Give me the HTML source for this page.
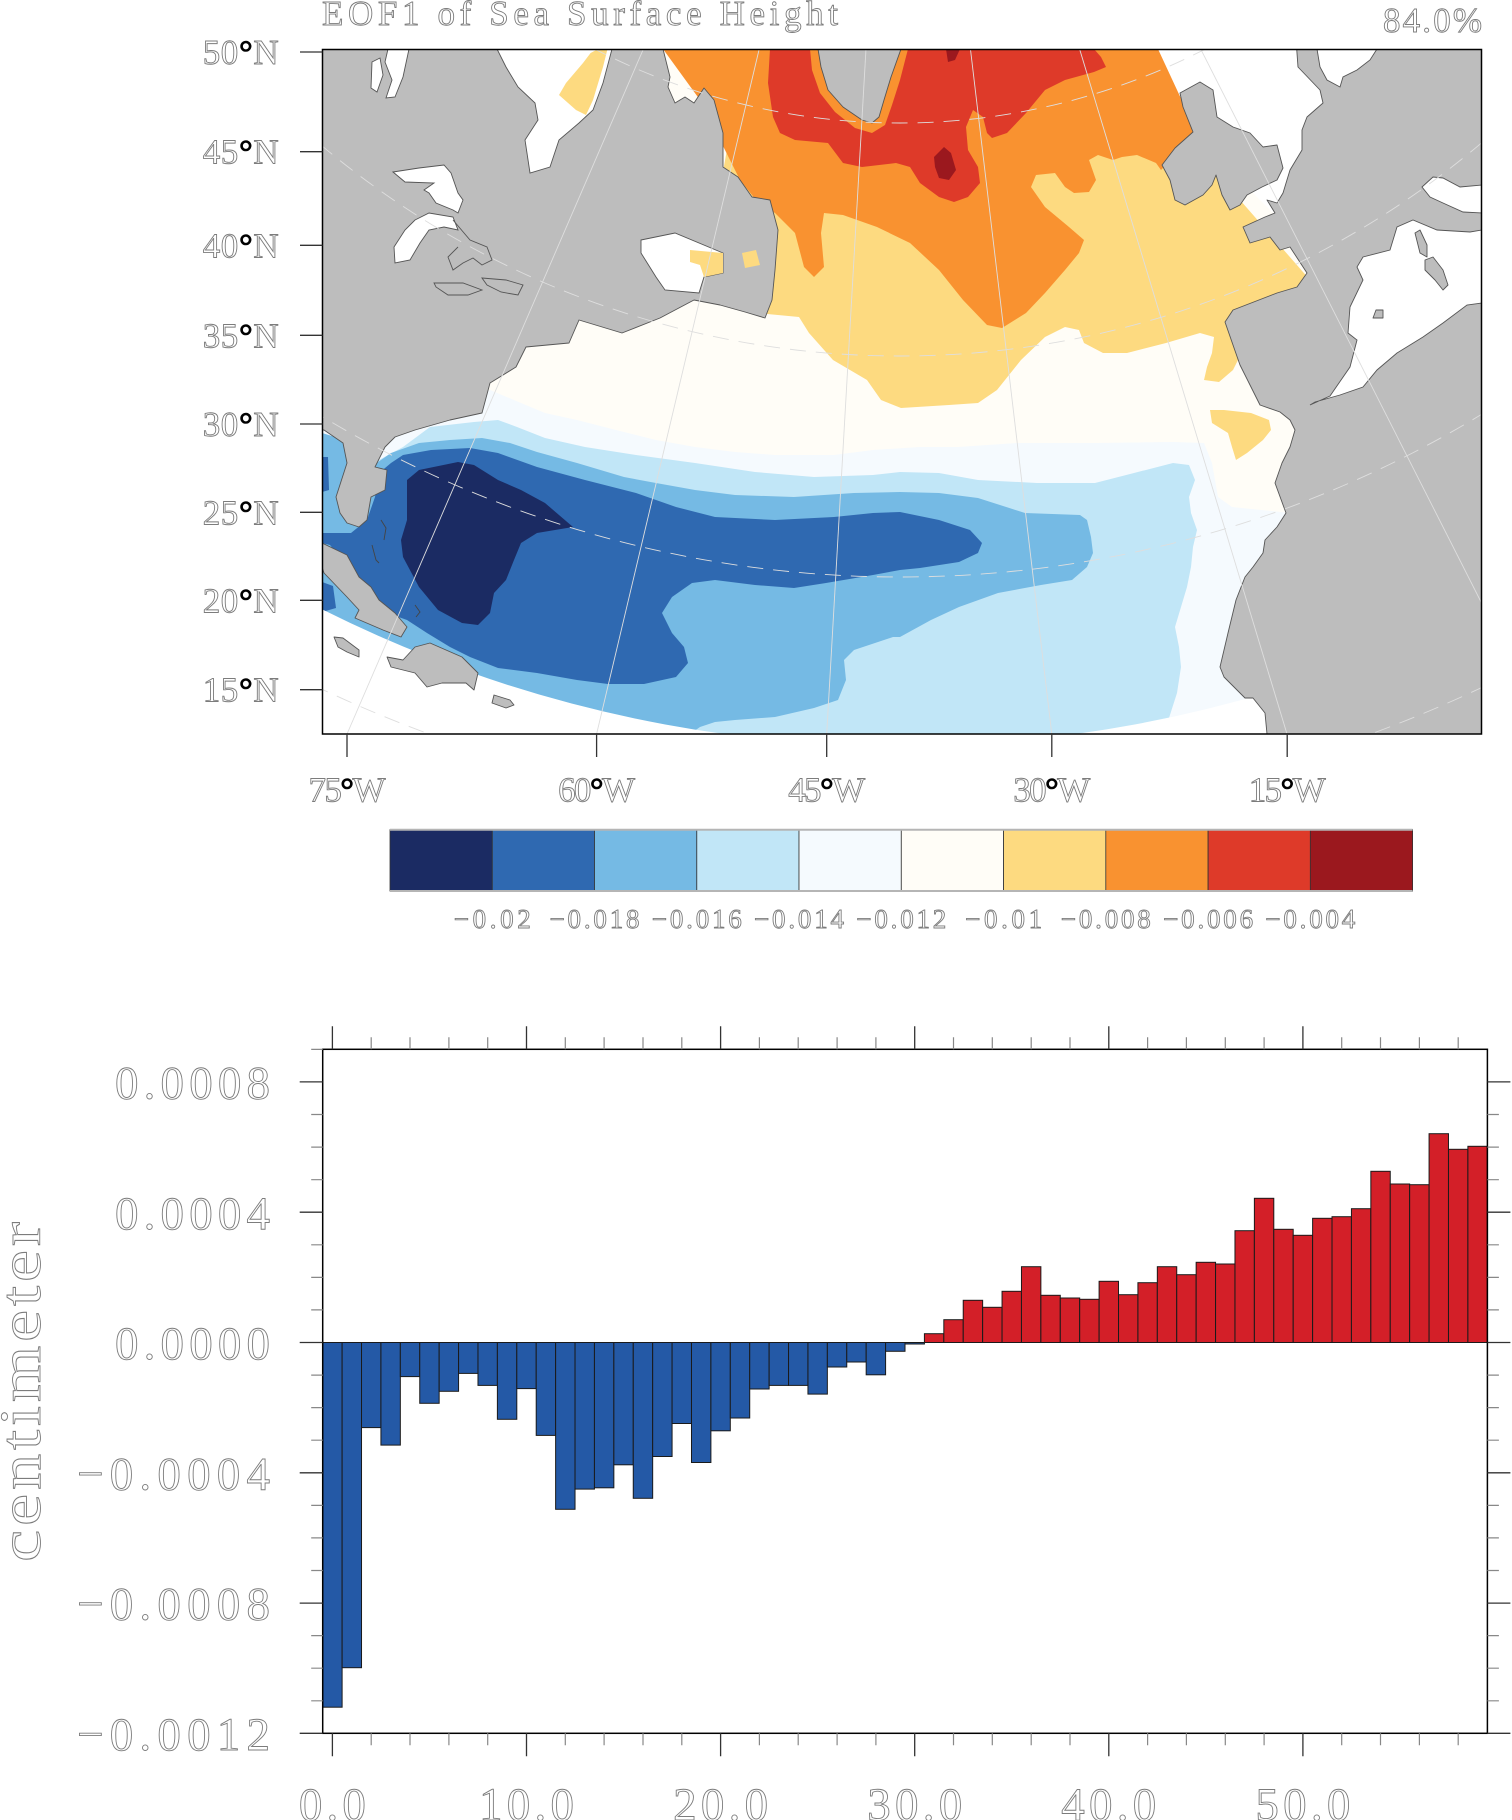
<!DOCTYPE html>
<html><head><meta charset="utf-8"><style>
html,body{margin:0;padding:0;background:#fff;}
svg{display:block;}
.t{font-family:"Liberation Serif",serif;fill:none;stroke:#7c7c7c;stroke-width:0.9;}
.deg{fill:#000;stroke:#000;stroke-width:0.6;font-weight:bold;}
.land{fill:#bdbdbd;stroke:#555;stroke-width:0.9;stroke-linejoin:round;}
.wl{fill:#fff;stroke:#555;stroke-width:0.9;}
.grid{fill:none;stroke:#dedede;stroke-width:0.9;}
</style></head><body>
<svg width="1512" height="1820" viewBox="0 0 1512 1820" xmlns="http://www.w3.org/2000/svg">
<defs><clipPath id="mc"><rect x="322.5" y="49.5" width="1159" height="684.5"/></clipPath></defs>

<!-- Titles -->
<text class="t" x="322" y="25" font-size="35" textLength="516" lengthAdjust="spacing">EOF1 of Sea Surface Height</text>
<text class="t" x="1482" y="32" font-size="35" text-anchor="end" textLength="99" lengthAdjust="spacing">84.0%</text>

<!-- MAP -->
<g clip-path="url(#mc)">
<rect x="322.5" y="49.5" width="1159" height="684.5" fill="#fffdf7"/>
<polygon fill="#f5fafe" points="322,430 420,425 470,400 490,390 521,403 545,413 577,420 616,430 656,440 695,447 735,452 775,455 834,455 873,450 920,447 958,447 1017,443 1095,443 1173,442 1204,443 1212,463 1218,497 1232,507 1310,515 1310,734 322,734"/>
<polygon fill="#c1e6f7" points="322,440 360,452 379,460 403,447 430,427 474,422 498,420 517,427 545,438 585,447 636,455 695,463 755,472 814,477 873,475 900,472 939,473 978,480 1037,483 1095,483 1134,473 1173,463 1189,465 1195,480 1189,497 1191,513 1197,530 1193,547 1191,567 1187,587 1181,607 1175,627 1179,647 1181,667 1177,693 1169,718 1160,734 322,734"/>
<polygon fill="#75bae4" points="322,433 345,440 347,463 360,470 371,467 391,453 419,443 450,440 482,438 510,443 537,452 577,463 624,477 656,483 695,490 735,495 794,497 854,493 900,492 939,493 978,498 1025,513 1080,515 1087,520 1091,537 1093,553 1087,567 1072,580 1041,585 998,593 959,607 931,620 900,637 893,637 854,650 844,660 846,680 838,700 814,708 775,717 735,720 715,722 700,727 690,734 322,734"/>
<polygon fill="#2f69b1" points="391,463 403,455 431,450 470,448 498,453 537,467 585,480 636,493 676,507 715,517 775,520 834,517 873,513 900,512 939,520 970,530 982,543 978,553 959,562 920,568 900,570 873,575 826,583 794,588 755,585 715,580 692,583 672,597 662,613 672,633 684,647 688,663 676,677 644,684 608,684 577,680 537,673 498,668 470,657 450,647 427,633 407,620 379,610 363,593 355,580 348,567 330,545 322,543 322,533 351,533 367,520 375,497 379,473"/>
<polygon fill="#2f69b1" points="322,457 328,457 329,490 322,492"/>
<polygon fill="#2f69b1" points="322,582 333,586 336,608 322,612"/>
<polygon fill="#1b2b63" points="407,480 419,470 458,462 474,465 498,480 521,490 545,503 573,527 537,533 521,543 514,560 506,580 494,593 490,613 478,625 462,623 438,610 419,587 403,557 401,540 407,520 407,490"/>
<!-- warm -->
<polygon fill="#fdda80" points="745,49 1160,49 1240,200 1310,280 1250,330 1238,347 1238,360 1233,370 1219,382 1204,380 1207,367 1212,353 1214,337 1200,333 1166,343 1127,353 1103,353 1084,343 1079,330 1065,327 1045,337 1021,360 997,390 978,403 949,405 901,408 881,400 867,380 833,360 809,333 799,317 756,313 740,300 700,300"/>
<polygon fill="#fdda80" points="1210,410 1224,410 1251,413 1269,420 1271,430 1263,440 1247,453 1236,460 1232,447 1228,433 1212,423"/>
<polygon fill="#f99230" points="663,49 1160,49 1197,133 1161,170 1156,163 1137,155 1122,157 1113,160 1098,155 1089,160 1096,180 1089,192 1074,193 1065,187 1055,173 1036,175 1031,187 1045,207 1069,227 1084,240 1079,253 1065,270 1045,293 1026,313 1002,328 987,325 963,300 939,270 910,243 877,227 843,215 824,213 821,233 824,267 814,277 804,267 795,233 775,213 756,200 740,180 700,100"/>
<polygon fill="#de3a29" points="770,49 768,83 773,117 780,133 795,140 828,143 843,163 862,167 896,163 910,167 920,183 939,197 954,202 968,197 980,183 978,167 968,150 966,127 973,110 983,117 987,133 992,138 1007,133 1026,113 1045,90 1065,80 1094,72 1106,67 1101,57 1094,49"/>
<polygon fill="#9b181e" points="934,157 944,147 951,153 956,170 949,180 939,178 935,167"/>
<polygon fill="#9b181e" points="946,49 960,49 955,60 948,62"/>
<polygon fill="#f99230" points="810,49 908,49 900,80 892,105 885,125 872,133 855,128 835,112 820,93 812,70"/>
<!-- outside-domain white -->
<circle cx="900" cy="-544" r="1590" fill="none" stroke="#fff" stroke-width="600"/>
<polygon fill="#fff" points="1158,49 1197,133 1235,175 1290,230 1320,285 1345,420 1462,734 1482,734 1482,49"/>
<!-- land -->
<polygon class="land" points="322,49 663,49 670,77 668,87 675,103 685,97 694,103 704,88 714,100 723,133 723,167 738,177 752,197 770,200 778,230 775,270 772,300 765,318 745,312 720,305 694,300 660,318 622,333 579,320 569,343 526,347 516,367 490,383 482,413 450,420 415,430 395,437 385,447 375,467 387,470 385,490 371,497 367,520 359,527 347,523 340,513 336,497 347,463 343,443 324,430 322,430"/>
<polygon class="land" points="322,543 347,555 359,577 371,587 379,600 395,613 407,627 401,637 383,630 355,618 359,610 347,597 324,573 322,567"/>
<polygon class="land" points="387,657 403,660 415,647 430,643 462,657 478,673 474,690 466,683 442,683 427,687 415,673 391,667"/>
<polygon class="land" points="334,637 343,638 359,650 359,657 347,652 338,647"/>
<polygon class="land" points="494,695 510,700 514,705 506,708 492,703"/>
<polygon class="land" points="818,49 901,49 891,77 884,100 879,117 872,123 862,120 843,107 828,90 821,67"/>
<polygon class="land" points="1180,93 1200,82 1213,90 1217,117 1233,127 1250,133 1263,147 1277,145 1283,168 1277,180 1262,187 1247,195 1240,205 1230,210 1222,195 1216,175 1212,185 1203,195 1185,205 1175,200 1170,180 1162,165 1175,148 1193,132 1183,107"/>
<polygon class="land" points="1296.7,49 1482,49 1482,734 1267,734 1265,713 1253,698 1245,698 1224,677 1220,667 1228,633 1236,600 1245,577 1253,567 1263,553 1265,540 1277,527 1286,513 1275,483 1282,463 1290,447 1295,430 1290,420 1280,412 1260,405 1250,385 1240,365 1233,345 1225,322 1233,310 1277,293 1297,287 1307,273 1290,247 1280,250 1270,237 1250,243 1243,227 1265,217 1275,213 1267,200 1277,203 1283,193 1290,170 1302,150 1302,130 1307,117 1323,103 1320,90 1298,67"/>
<!-- water on land -->
<polygon class="wl" points="497,49 612,49 603,83 593,110 579,123 559,140 550,167 530,173 525,140 538,120 535,103 518,87 506,67"/>
<polygon fill="#fdda80" points="598,49 607.5,49 603,67 593,100 586,115 576,110 559,95 566,83 583,63 590.6,53"/>
<polygon class="wl" points="641,240 675,233 723,253 723,273 704,277 699,293 665,290 656,277 641,253"/>
<polygon fill="#fdda80" points="690,250 723,253 723,273 704,277 700,265 690,262"/>
<polygon fill="#fdda80" points="742,253 756,250 760,265 745,268"/>
<polygon class="wl" points="393,172 419,168 444,165 451,173 458,193 463,200 458,213 453,210 436,203 429,193 424,190 434,183 405,182"/>
<polygon class="wl" points="415,220 429,213 453,217 458,230 444,227 429,230 420,243 410,260 395,263 394,247 405,230"/>
<polygon class="wl" points="388,49 409,49 403,77 395,97 386,98 392,80 385,62"/>
<polygon class="wl" points="372,62 380,58 383,75 377,92 371,88"/>
<polyline fill="none" stroke="#555" stroke-width="0.9" points="453,220 470,240 487,247 492,260 482,265 473,258 463,263 453,270 448,257 458,247"/>
<polygon fill="none" stroke="#555" stroke-width="0.9" points="434,283 463,283 482,290 468,295 448,295 436,287"/>
<polygon fill="none" stroke="#555" stroke-width="0.9" points="482,278 506,280 523,285 518,295 501,292 487,285"/>
<polygon class="wl" points="1363,257 1390,250 1397,227 1413,220 1437,230 1470,232 1482,230 1482,303 1467,305 1443,323 1423,337 1397,353 1377,370 1363,387 1340,395 1315,402 1310,405 1330,396 1350,367 1357,340 1348,333 1350,307 1363,280 1357,267"/>
<polygon class="land" points="1415,233 1420,230 1427,245 1427,257 1420,253"/>
<polygon class="land" points="1425,260 1433,257 1443,270 1448,285 1443,290 1435,280 1425,270"/>
<polygon class="land" points="1373,318 1376,310 1383,310 1383,318"/>
<polygon class="wl" points="1422,187 1433,177 1443,178 1460,187 1482,185 1482,213 1463,212 1443,203 1430,197"/>
<polygon class="wl" points="1317,49 1377,49 1370,60 1357,70 1343,77 1340,87 1327,80 1320,67"/>
<polyline fill="none" stroke="#444" stroke-width="0.9" points="381,520 386,528 384,540"/>
<polyline fill="none" stroke="#444" stroke-width="0.9" points="372,545 376,560 379,563"/>
<polyline fill="none" stroke="#444" stroke-width="0.9" points="415,605 420,612 416,617"/>
<!-- grid -->
<g class="grid">
<line x1="900" y1="-544" x2="347" y2="734"/>
<line x1="900" y1="-544" x2="596.6" y2="734"/>
<line x1="900" y1="-544" x2="826.7" y2="734"/>
<line x1="900" y1="-544" x2="1051.8" y2="734"/>
<line x1="900" y1="-544" x2="1287" y2="734"/>
<line x1="900" y1="-544" x2="1548" y2="734"/>
<g stroke-dasharray="16 10">
<circle cx="900" cy="-544" r="667"/>
<circle cx="900" cy="-544" r="900"/>
<circle cx="900" cy="-544" r="1121"/>
<circle cx="900" cy="-544" r="1362"/>
</g>
</g>
</g>
<rect x="322.5" y="49.5" width="1159" height="684.5" fill="none" stroke="#000" stroke-width="1.5"/>
<!-- map ticks -->
<path fill="none" stroke="#333" stroke-width="1.3" d="M300 52H322.5M300 151.7H322.5M300 245.3H322.5M300 335.3H322.5M300 424H322.5M300 512.3H322.5M300 600.3H322.5M300 689.7H322.5M347 734V757M596.6 734V757M826.7 734V757M1051.8 734V757M1287.2 734V757"/>
<g class="t" font-size="35">
<text x="278.7" y="64" text-anchor="end" textLength="76" lengthAdjust="spacing">50<tspan class="deg">°</tspan>N</text>
<text x="278.7" y="163.7" text-anchor="end" textLength="76" lengthAdjust="spacing">45<tspan class="deg">°</tspan>N</text>
<text x="278.7" y="257.3" text-anchor="end" textLength="76" lengthAdjust="spacing">40<tspan class="deg">°</tspan>N</text>
<text x="278.7" y="347.3" text-anchor="end" textLength="76" lengthAdjust="spacing">35<tspan class="deg">°</tspan>N</text>
<text x="278.7" y="436" text-anchor="end" textLength="76" lengthAdjust="spacing">30<tspan class="deg">°</tspan>N</text>
<text x="278.7" y="524.3" text-anchor="end" textLength="76" lengthAdjust="spacing">25<tspan class="deg">°</tspan>N</text>
<text x="278.7" y="612.3" text-anchor="end" textLength="76" lengthAdjust="spacing">20<tspan class="deg">°</tspan>N</text>
<text x="278.7" y="701.7" text-anchor="end" textLength="76" lengthAdjust="spacing">15<tspan class="deg">°</tspan>N</text>
<text x="347" y="801.7" text-anchor="middle" textLength="77" lengthAdjust="spacing">75<tspan class="deg">°</tspan>W</text>
<text x="596.6" y="801.7" text-anchor="middle" textLength="77" lengthAdjust="spacing">60<tspan class="deg">°</tspan>W</text>
<text x="826.7" y="801.7" text-anchor="middle" textLength="77" lengthAdjust="spacing">45<tspan class="deg">°</tspan>W</text>
<text x="1051.8" y="801.7" text-anchor="middle" textLength="77" lengthAdjust="spacing">30<tspan class="deg">°</tspan>W</text>
<text x="1287.2" y="801.7" text-anchor="middle" textLength="77" lengthAdjust="spacing">15<tspan class="deg">°</tspan>W</text>
</g>

<!-- COLORBAR -->
<g stroke="#333" stroke-width="0.8">
<rect x="390" y="829.7" width="102.3" height="61.3" fill="#1b2b63"/>
<rect x="492.3" y="829.7" width="102.3" height="61.3" fill="#2f69b1"/>
<rect x="594.5" y="829.7" width="102.3" height="61.3" fill="#75bae4"/>
<rect x="696.8" y="829.7" width="102.3" height="61.3" fill="#c1e6f7"/>
<rect x="799" y="829.7" width="102.3" height="61.3" fill="#f5fafe"/>
<rect x="901.3" y="829.7" width="102.3" height="61.3" fill="#fffdf7"/>
<rect x="1003.6" y="829.7" width="102.3" height="61.3" fill="#fdda80"/>
<rect x="1105.8" y="829.7" width="102.3" height="61.3" fill="#f99230"/>
<rect x="1208.1" y="829.7" width="102.3" height="61.3" fill="#de3a29"/>
<rect x="1310.3" y="829.7" width="102.3" height="61.3" fill="#9b181e"/>
</g>
<path d="M390 829.7H1412.6M390 891H1412.6" stroke="#b5b5b5" stroke-width="2"/>
<g class="t" font-size="27">
<text x="492.3" y="928" text-anchor="middle" textLength="77" lengthAdjust="spacing">−0.02</text>
<text x="594.5" y="928" text-anchor="middle" textLength="90" lengthAdjust="spacing">−0.018</text>
<text x="696.8" y="928" text-anchor="middle" textLength="90" lengthAdjust="spacing">−0.016</text>
<text x="799" y="928" text-anchor="middle" textLength="90" lengthAdjust="spacing">−0.014</text>
<text x="901.3" y="928" text-anchor="middle" textLength="90" lengthAdjust="spacing">−0.012</text>
<text x="1003.6" y="928" text-anchor="middle" textLength="77" lengthAdjust="spacing">−0.01</text>
<text x="1105.8" y="928" text-anchor="middle" textLength="90" lengthAdjust="spacing">−0.008</text>
<text x="1208.1" y="928" text-anchor="middle" textLength="90" lengthAdjust="spacing">−0.006</text>
<text x="1310.3" y="928" text-anchor="middle" textLength="90" lengthAdjust="spacing">−0.004</text>
</g>

<!-- BAR CHART -->
<g fill="#2459a6" stroke="#1a1a1a" stroke-width="1">
<rect x="322.70" y="1342.5" width="19.41" height="364.7"/>
<rect x="342.11" y="1342.5" width="19.41" height="325.2"/>
<rect x="361.52" y="1342.5" width="19.41" height="85.1"/>
<rect x="380.93" y="1342.5" width="19.41" height="102.6"/>
<rect x="400.34" y="1342.5" width="19.41" height="34.1"/>
<rect x="419.75" y="1342.5" width="19.41" height="60.8"/>
<rect x="439.16" y="1342.5" width="19.41" height="48.8"/>
<rect x="458.57" y="1342.5" width="19.41" height="30.9"/>
<rect x="477.98" y="1342.5" width="19.41" height="42.9"/>
<rect x="497.39" y="1342.5" width="19.41" height="76.8"/>
<rect x="516.80" y="1342.5" width="19.41" height="46.1"/>
<rect x="536.21" y="1342.5" width="19.41" height="92.9"/>
<rect x="555.62" y="1342.5" width="19.41" height="166.8"/>
<rect x="575.03" y="1342.5" width="19.41" height="146.6"/>
<rect x="594.44" y="1342.5" width="19.41" height="145.3"/>
<rect x="613.85" y="1342.5" width="19.41" height="122.3"/>
<rect x="633.26" y="1342.5" width="19.41" height="155.8"/>
<rect x="652.67" y="1342.5" width="19.41" height="114.0"/>
<rect x="672.08" y="1342.5" width="19.41" height="81.0"/>
<rect x="691.49" y="1342.5" width="19.41" height="120.0"/>
<rect x="710.90" y="1342.5" width="19.41" height="88.3"/>
<rect x="730.31" y="1342.5" width="19.41" height="75.5"/>
<rect x="749.72" y="1342.5" width="19.41" height="46.5"/>
<rect x="769.13" y="1342.5" width="19.41" height="42.9"/>
<rect x="788.54" y="1342.5" width="19.41" height="42.9"/>
<rect x="807.95" y="1342.5" width="19.41" height="51.6"/>
<rect x="827.36" y="1342.5" width="19.41" height="24.5"/>
<rect x="846.77" y="1342.5" width="19.41" height="19.5"/>
<rect x="866.18" y="1342.5" width="19.41" height="32.3"/>
<rect x="885.59" y="1342.5" width="19.41" height="8.8"/>
<rect x="905.00" y="1342.5" width="19.41" height="1.5"/>
</g>
<g fill="#d31f28" stroke="#1a1a1a" stroke-width="1">
<rect x="924.41" y="1333.7" width="19.41" height="8.8"/>
<rect x="943.82" y="1319.7" width="19.41" height="22.8"/>
<rect x="963.23" y="1300.3" width="19.41" height="42.2"/>
<rect x="982.64" y="1307.3" width="19.41" height="35.2"/>
<rect x="1002.05" y="1291.3" width="19.41" height="51.2"/>
<rect x="1021.46" y="1266.7" width="19.41" height="75.8"/>
<rect x="1040.87" y="1295.3" width="19.41" height="47.2"/>
<rect x="1060.28" y="1298.0" width="19.41" height="44.5"/>
<rect x="1079.69" y="1299.3" width="19.41" height="43.2"/>
<rect x="1099.10" y="1281.3" width="19.41" height="61.2"/>
<rect x="1118.51" y="1294.7" width="19.41" height="47.8"/>
<rect x="1137.92" y="1282.7" width="19.41" height="59.8"/>
<rect x="1157.33" y="1266.7" width="19.41" height="75.8"/>
<rect x="1176.74" y="1274.7" width="19.41" height="67.8"/>
<rect x="1196.15" y="1262.3" width="19.41" height="80.2"/>
<rect x="1215.56" y="1264.0" width="19.41" height="78.5"/>
<rect x="1234.97" y="1230.7" width="19.41" height="111.8"/>
<rect x="1254.38" y="1198.3" width="19.41" height="144.2"/>
<rect x="1273.79" y="1229.3" width="19.41" height="113.2"/>
<rect x="1293.20" y="1235.3" width="19.41" height="107.2"/>
<rect x="1312.61" y="1218.3" width="19.41" height="124.2"/>
<rect x="1332.02" y="1216.7" width="19.41" height="125.8"/>
<rect x="1351.43" y="1208.7" width="19.41" height="133.8"/>
<rect x="1370.84" y="1171.3" width="19.41" height="171.2"/>
<rect x="1390.25" y="1184.0" width="19.41" height="158.5"/>
<rect x="1409.66" y="1184.7" width="19.41" height="157.8"/>
<rect x="1429.07" y="1133.7" width="19.41" height="208.8"/>
<rect x="1448.48" y="1149.3" width="19.41" height="193.2"/>
<rect x="1467.89" y="1146.3" width="19.41" height="196.2"/>
</g>
<rect x="322.7" y="1049.3" width="1164.7" height="684" fill="none" stroke="#000" stroke-width="1.5"/>
<!-- major ticks -->
<path fill="none" stroke="#333" stroke-width="1.3" d="M299.7 1081.9H322.7M299.7 1212.2H322.7M299.7 1342.5H322.7M299.7 1472.8H322.7M299.7 1603.1H322.7M299.7 1733.3H322.7
M1487.4 1081.9H1510.4M1487.4 1212.2H1510.4M1487.4 1342.5H1510.4M1487.4 1472.8H1510.4M1487.4 1603.1H1510.4M1487.4 1733.3H1510.4
M332.4 1049.3V1026.3M526.5 1049.3V1026.3M720.6 1049.3V1026.3M914.7 1049.3V1026.3M1108.8 1049.3V1026.3M1302.9 1049.3V1026.3
M332.4 1733.3V1756.3M526.5 1733.3V1756.3M720.6 1733.3V1756.3M914.7 1733.3V1756.3M1108.8 1733.3V1756.3M1302.9 1733.3V1756.3"/>
<!-- minor ticks -->
<path fill="none" stroke="#888" stroke-width="1.2" d="M311.2 1049.4H322.7M311.2 1114.5H322.7M311.2 1147.1H322.7M311.2 1179.7H322.7M311.2 1244.8H322.7M311.2 1277.4H322.7M311.2 1309.9H322.7M311.2 1375.1H322.7M311.2 1407.6H322.7M311.2 1440.2H322.7M311.2 1505.4H322.7M311.2 1537.9H322.7M311.2 1570.5H322.7M311.2 1635.6H322.7M311.2 1668.2H322.7M311.2 1700.8H322.7
M1487.4 1114.5H1498.9M1487.4 1147.1H1498.9M1487.4 1179.7H1498.9M1487.4 1244.8H1498.9M1487.4 1277.4H1498.9M1487.4 1309.9H1498.9M1487.4 1375.1H1498.9M1487.4 1407.6H1498.9M1487.4 1440.2H1498.9M1487.4 1505.4H1498.9M1487.4 1537.9H1498.9M1487.4 1570.5H1498.9M1487.4 1635.6H1498.9M1487.4 1668.2H1498.9M1487.4 1700.8H1498.9
M371.2 1049.3v-12M410 1049.3v-12M448.9 1049.3v-12M487.7 1049.3v-12M565.3 1049.3v-12M604.1 1049.3v-12M643 1049.3v-12M681.8 1049.3v-12M759.4 1049.3v-12M798.2 1049.3v-12M837.1 1049.3v-12M875.9 1049.3v-12M953.5 1049.3v-12M992.3 1049.3v-12M1031.2 1049.3v-12M1070 1049.3v-12M1147.6 1049.3v-12M1186.4 1049.3v-12M1225.3 1049.3v-12M1264.1 1049.3v-12M1341.7 1049.3v-12M1380.5 1049.3v-12M1419.4 1049.3v-12M1458.2 1049.3v-12
M371.2 1733.3v12M410 1733.3v12M448.9 1733.3v12M487.7 1733.3v12M565.3 1733.3v12M604.1 1733.3v12M643 1733.3v12M681.8 1733.3v12M759.4 1733.3v12M798.2 1733.3v12M837.1 1733.3v12M875.9 1733.3v12M953.5 1733.3v12M992.3 1733.3v12M1031.2 1733.3v12M1070 1733.3v12M1147.6 1733.3v12M1186.4 1733.3v12M1225.3 1733.3v12M1264.1 1733.3v12M1341.7 1733.3v12M1380.5 1733.3v12M1419.4 1733.3v12M1458.2 1733.3v12"/>
<g class="t" font-size="47">
<text x="270" y="1098.5" text-anchor="end" textLength="155" lengthAdjust="spacing">0.0008</text>
<text x="270" y="1228.8" text-anchor="end" textLength="155" lengthAdjust="spacing">0.0004</text>
<text x="270" y="1359.1" text-anchor="end" textLength="155" lengthAdjust="spacing">0.0000</text>
<text x="270" y="1489.4" text-anchor="end" textLength="193" lengthAdjust="spacing">−0.0004</text>
<text x="270" y="1619.7" text-anchor="end" textLength="193" lengthAdjust="spacing">−0.0008</text>
<text x="270" y="1749.9" text-anchor="end" textLength="193" lengthAdjust="spacing">−0.0012</text>
<text x="332.4" y="1820" text-anchor="middle" textLength="67" lengthAdjust="spacing">0.0</text>
<text x="526.5" y="1820" text-anchor="middle" textLength="95" lengthAdjust="spacing">10.0</text>
<text x="720.6" y="1820" text-anchor="middle" textLength="95" lengthAdjust="spacing">20.0</text>
<text x="914.7" y="1820" text-anchor="middle" textLength="95" lengthAdjust="spacing">30.0</text>
<text x="1108.8" y="1820" text-anchor="middle" textLength="95" lengthAdjust="spacing">40.0</text>
<text x="1302.9" y="1820" text-anchor="middle" textLength="95" lengthAdjust="spacing">50.0</text>
</g>
<text class="t" font-size="58" transform="translate(40,1392) rotate(-90) scale(1.25,1)" text-anchor="middle" textLength="272" lengthAdjust="spacing">centimeter</text>
</svg>
</body></html>
